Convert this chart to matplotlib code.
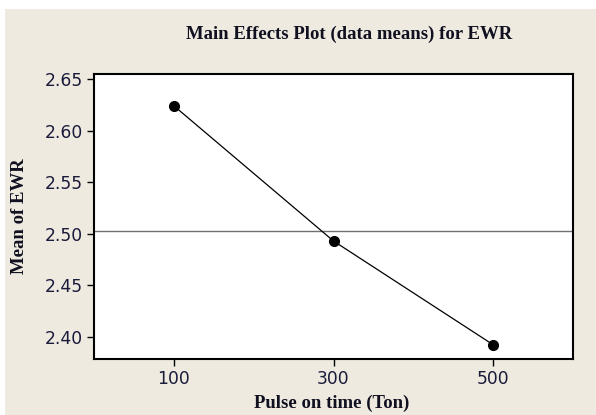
import numpy as np
import matplotlib.pyplot as plt
from matplotlib.patches import Rectangle

# Main effects data
levels = ['100', '300', '500']
means = [2.624, 2.493, 2.3925]
yticks = [2.40, 2.45, 2.50, 2.55, 2.60, 2.65]

W, H = 596, 415
bg = '#EEEAE0'
fig = plt.figure(figsize=(W / 100, H / 100), dpi=100, facecolor='white')
fig.add_artist(Rectangle((5 / W, 0), 1, 1 - 9 / H, transform=fig.transFigure,
                         facecolor=bg, edgecolor='none', zorder=-10))

ax = fig.add_axes([94 / W, 1 - 359 / H, (573 - 94) / W, (359 - 74) / H])
ax.set_facecolor('white')

x = np.arange(1, len(levels) + 1)
ax.axhline(np.mean(means), color='#707070', lw=1.0, zorder=1)
ax.plot(x, means, color='black', lw=0.9, marker='o', ms=7,
        markerfacecolor='black', markeredgecolor='black', zorder=3)

ax.set_xlim(0.5, 3.5)
ax.set_ylim(2.3787, 2.6548)
ax.set_xticks(x)
ax.set_xticklabels(levels)
ax.set_yticks(yticks)
ax.set_yticklabels(['%.2f' % v for v in yticks])
ax.tick_params(direction='out', length=5, width=1, labelsize=12.3,
               labelcolor='#1a1a3a', pad=3)
for s in ax.spines.values():
    s.set_linewidth(1.5)
    s.set_color('black')

serif = {'family': 'Liberation Serif', 'weight': 'bold'}
fig.text(349 / W, 1 - 34 / H, 'Main Effects Plot (data means) for EWR',
         ha='center', va='center', fontsize=13.5, color='#101020', **serif)
fig.text(332 / W, 1 - 403 / H, 'Pulse on time (Ton)',
         ha='center', va='center', fontsize=13.5, color='#101020', **serif)
fig.text(20 / W, 1 - 216 / H, 'Mean of EWR', rotation=90,
         ha='center', va='center', fontsize=13.5, color='#101020', **serif)

fig.savefig('out.png', dpi=100, facecolor=fig.get_facecolor())
